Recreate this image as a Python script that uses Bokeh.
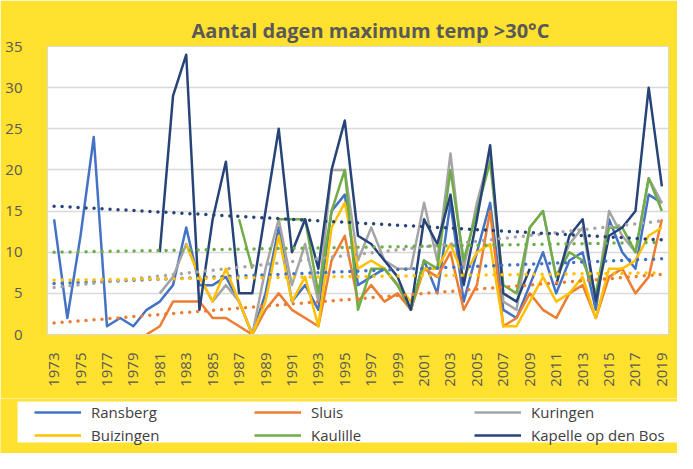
import math
import numpy as np
from bokeh.plotting import figure
from bokeh.layouts import column
from bokeh.models import FixedTicker, Legend, LegendItem, Range1d, BoxAnnotation
from bokeh.embed import file_html
from bokeh.resources import INLINE

N = None
years = list(range(1973, 2020))

ransberg = [14, 2, 12, 24, 1, 2, 1, 3, 4, 6, 13, 6, 6, 7, 4, 0, 5, 13, 4, 6, 3, 15, 17, 6, 7, 8, 6, 3,
            9, 5, 16, 4, 10, 16, 3, 2, 6, 10, 5, 9, 10, 3, 14, 10, 8, 17, 16]
sluis = [N] * 7 + [0, 1, 4, 4, 4, 2, 2, 1, 0, 3, 5, 3, 2, 1, 9, 12, 4, 6, 4, 5, 3, 8, 7, 10, 3, 6, 15,
                   1, 2, 5, 3, 2, 5, 6, 2, 7, 8, 5, 7, 14]
kuringen = [N] * 8 + [5, 7, 11, 7, 4, 6, 4, 0, 8, 14, 6, 11, 4, 20, 20, 9, 13, 9, 8, 8, 16, 9, 22, 8,
                      16, 22, 4, 3, 13, 15, 7, 11, 13, 4, 15, 12, 10, 19, 16]
buizingen = [N] * 10 + [11, 7, 4, 8, 4, 0, 4, 12, 4, 7, 1, 13, 16, 8, 9, 8, 6, 4, 8, 8, 11, 7, 10, 11,
                        1, 1, 4, 7, 4, 5, 7, 2, 8, 8, 9, 12, 13]
kaulille = [N] * 14 + [14, 8, N, 14, 14, 14, 5, 15, 20, 3, 8, 8, 6, 3, 9, 8, 20, 9, 15, 21, 6, 5, 13,
                       15, 7, 10, 9, 5, 13, 13, 10, 19, 15]
kapelle = [N] * 8 + [10, 29, 34, 3, 14, 21, 5, 5, 15, 25, 10, 14, 8, 20, 26, 12, 11, 9, 7, 3, 14, 11,
                     17, 6, 14, 23, 5, 4, 8, N, 6, 12, 14, 4, 12, 13, 15, 30, 18]

names = ["Ransberg", "Sluis", "Kuringen", "Buizingen", "Kaulille", "Kapelle op den Bos"]
series = [ransberg, sluis, kuringen, buizingen, kaulille, kapelle]
colors = ["#4472C4", "#ED7D31", "#A5A5A5", "#FFC000", "#70AD47", "#264478"]
# linear trend lines (values read at 1973 and 2019)
trend_start = [6.2, 1.4, 5.7, 6.6, 10.0, 15.6]
trend_end = [9.2, 7.3, 13.8, 7.5, 11.2, 11.5]

y_ticks = [0, 5, 10, 15, 20, 25, 30, 35]
x_ticks = list(range(1973, 2020, 2))

YELLOW = "#FFE12E"
FONT = "Open Sans"
TXT = "#595959"

W = 677
H_MAIN = 398
H_LEG = 55

p = figure(width=W, height=H_MAIN, output_backend="svg", toolbar_location=None,
           x_range=Range1d(1972.5, 2019.5), y_range=Range1d(0, 35),
           min_border_left=47, min_border_right=9, min_border_top=46, min_border_bottom=64)
p.frame_align = False
p.background_fill_color = "white"
p.border_fill_color = YELLOW
p.outline_line_color = "#D9D9D9"

p.title.text = "Aantal dagen maximum temp >30°C"
p.title.align = "left"
p.title.offset = 144
p.title.standoff = 6
p.title.text_font = FONT
p.title.text_font_size = "20px"
p.title.text_font_style = "bold"
p.title.text_color = TXT

p.xgrid.grid_line_color = None
p.ygrid.grid_line_color = "#D9D9D9"
p.ygrid.grid_line_width = 1.5
p.yaxis.ticker = FixedTicker(ticks=y_ticks)
p.xaxis.ticker = FixedTicker(ticks=x_ticks)
for ax in (p.xaxis[0], p.yaxis[0]):
    ax.major_tick_line_color = None
    ax.minor_tick_line_color = None
    ax.major_label_text_font = FONT
    ax.major_label_text_color = TXT
p.yaxis.axis_line_color = None
p.yaxis.major_label_text_font_size = "15px"
p.yaxis.major_label_standoff = 19
p.xaxis.axis_line_color = "#D9D9D9"
p.xaxis.major_label_text_font_size = "15px"
p.xaxis.major_label_orientation = math.pi / 2
p.xaxis.major_label_standoff = 12

for name, vals, col in zip(names, series, colors):
    arr = np.array(vals, dtype=float)
    p.line(years, arr, line_color=col, line_width=2.5, line_join="round")

for s, e, col in zip(trend_start, trend_end, colors):
    p.line([years[0], years[-1]], [s, e], line_color=col, line_width=3.5,
           line_dash="0 8", line_cap="round")

# legend strip below the chart (pixel-like ranges; its renderers lie outside the view)
lg = figure(width=W, height=H_LEG, output_backend="svg", toolbar_location=None,
            x_range=Range1d(0, W), y_range=Range1d(0, H_LEG),
            x_axis_location=None, y_axis_location=None, min_border=0)
lg.frame_align = False
lg.background_fill_color = YELLOW
lg.border_fill_color = YELLOW
lg.outline_line_color = None
lg.grid.grid_line_color = None
lg.add_layout(BoxAnnotation(left=17, right=W, bottom=11, top=52, fill_color="white",
                            fill_alpha=1.0, line_color=None, level="underlay"))
items = []
for name, vals, col in zip(names, series, colors):
    arr = np.array(vals, dtype=float)
    r = lg.line(years, arr, line_color=col, line_width=2.5)
    items.append(LegendItem(label=name, renderers=[r]))

legend = Legend(items=items, orientation="horizontal", ncols=3,
                location=(34, 8), margin=0, padding=3, spacing=3,
                glyph_width=47, glyph_height=18, label_height=18, label_width=160,
                label_standoff=10, label_text_font=FONT, label_text_font_size="15px",
                label_text_color="#404040", background_fill_color=None,
                border_line_color=None)
lg.add_layout(legend, "center")

layout = column(p, lg, spacing=0)
html = file_html(layout, INLINE)
open("out.html", "w").write(html)
